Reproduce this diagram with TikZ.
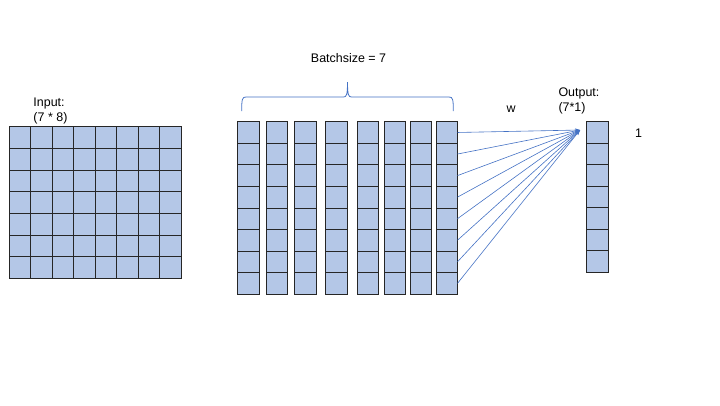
\documentclass[tikz,border=0pt]{standalone}
\usepackage{fontspec}
\setmainfont{Liberation Sans}
\usetikzlibrary{arrows.meta, positioning}

\definecolor{cellblue}{HTML}{B4C7E7}
\definecolor{linkblue}{HTML}{4472C4}
\tikzset{
    cell/.style={draw=black!85, fill=cellblue, line width=0.7bp, minimum width=21.5bp, minimum height=21.5bp, inner sep=0pt, outer sep=0pt},
    lbl/.style={font=\fontsize{12.5}{15}\selectfont, inner sep=0pt},
    link/.style={draw=linkblue, line width=0.6bp, -{Stealth[length=5bp, width=3.5bp]}},
    bracket/.style={draw=linkblue, line width=0.8bp}
}

\begin{document}
\begin{tikzpicture}[x=1bp, y=-1bp]
                        \useasboundingbox (0,0) rectangle (720,405);
                        % input matrix
                        \foreach \r in {1,...,7}
                            \foreach \c in {1,...,8}
                                \node[cell, minimum height=21.7bp] (in-\r-\c) at ({9+21.5*(\c-0.5)}, {126.5+21.7*(\r-0.5)}) {};
                        % batch columns
                        \foreach \c/\x in {1/237.5, 2/266, 3/294.5, 4/325.5, 5/357, 6/384, 7/410, 8/436}
                            \foreach \r in {1,...,8}
                                \node[cell] (b\c-\r) at ({\x+10.75}, {121.7+21.55*(\r-0.5)}) {};
                        % output column
                        \foreach \r in {1,...,7}
                            \node[cell] (out-\r) at (597.5, {121.7+21.5*(\r-0.5)}) {};
                        \node[lbl, anchor=base west] (inlbl) at (33.3,106.5) {Input:};
                        \node[lbl, anchor=base west] (insize) at (33.3,121.5) {(7 * 8)};
                        \node[lbl, anchor=base] (batch) at (348.5,62.5) {Batchsize = 7};
                        \node[lbl, anchor=base west] (outlbl) at (558.3,96) {Output:};
                        \node[lbl, anchor=base west] (outsize) at (558.3,111.5) {(7*1)};
                        \node[lbl, anchor=base] (wlbl) at (511,112.5) {w};
                        \node[lbl, anchor=base] (onelbl) at (638.5,137) {1};
                        % brace over the batch
                        \coordinate (brL) at (241.7,111);
                        \coordinate (brR) at (453.3,111);
                        \coordinate (brT) at (347.5,82);
                        \draw[bracket] (brL) .. controls (241.7,99) and (242.2,97) .. (246,97)
                            -- (343.5,97) .. controls (346.5,97) and (347.5,95) .. (brT)
                            .. controls (347.5,95) and (348.5,97) .. (351.5,97)
                            -- (449,97) .. controls (452.8,97) and (453.3,99) .. (brR);
                        % weights
                        \coordinate (tip) at (580,130);
                        \foreach \r in {1,...,8}
                            \draw[link] (b8-\r.east) -- (tip);
                    \end{tikzpicture}
\end{document}
